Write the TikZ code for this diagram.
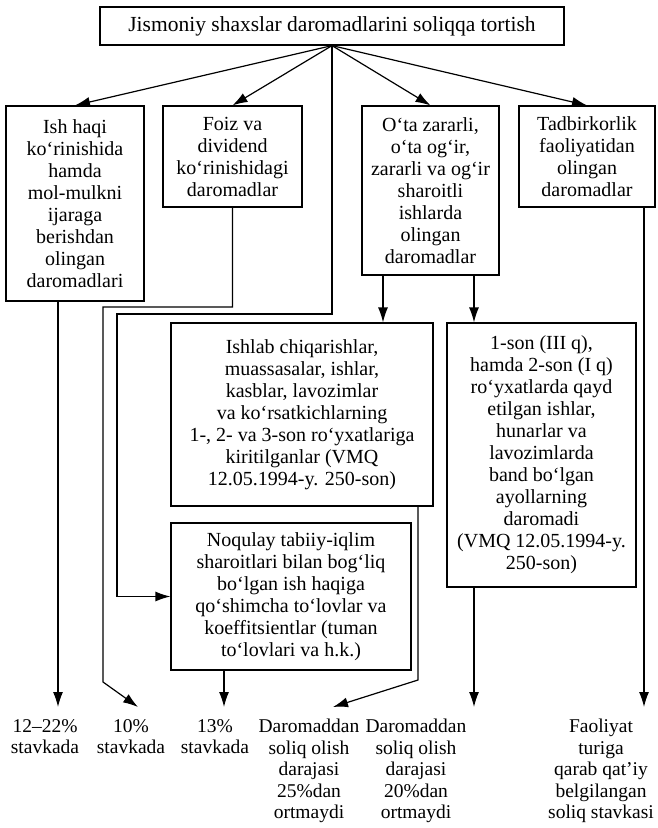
\documentclass[tikz,border=0pt]{standalone}
\usepackage{fontspec}
\setmainfont{Liberation Serif}
\usetikzlibrary{arrows.meta}
\begin{document}
\begin{tikzpicture}[x=1pt,y=-1pt,
  box/.style={draw, line width=1.2pt, align=center, inner sep=0pt, font=\fontsize{20}{22}\selectfont},
  lbl/.style={align=center, inner sep=0pt, anchor=north, font=\fontsize{19.5}{21.5}\selectfont},
  arr/.style={line width=1.2pt, -{Latex[length=15pt,width=10pt]}},
  ln/.style={line width=1.2pt}]
\useasboundingbox (0,0) rectangle (657,828);
% boxes
\node[box, minimum width=464pt, minimum height=38pt, font=\fontsize{21.5}{24}\selectfont] (title) at (332,26) {Jismoniy shaxslar daromadlarini soliqqa tortish};
\node[box, minimum width=138pt, minimum height=195pt] (ish) at (75,203.5) {Ish haqi\\ko‘rinishida\\hamda\\mol-mulkni\\ijaraga\\berishdan\\olingan\\daromadlari};
\node[box, minimum width=139pt, minimum height=101pt] (foiz) at (232.5,156.5) {Foiz va\\dividend\\ko‘rinishidagi\\daromadlar};
\node[box, minimum width=137pt, minimum height=169pt] (ota) at (430.5,190.5) {O‘ta zararli,\\o‘ta og‘ir,\\zararli va og‘ir\\sharoitli\\ishlarda\\olingan\\daromadlar};
\node[box, minimum width=136pt, minimum height=101pt] (tad) at (587,156.5) {Tadbirkorlik\\faoliyatidan\\olingan\\daromadlar};
\node[box, minimum width=262pt, minimum height=183pt] (ishlab) at (302,414.5) {Ishlab chiqarishlar,\\muassasalar, ishlar,\\kasblar, lavozimlar\\va ko‘rsatkichlarning\\1-, 2- va 3-son ro‘yxatlariga\\kiritilganlar (VMQ\\12.05.1994-y. 250-son)};
\node[box, minimum width=240pt, minimum height=147pt] (noq) at (291,596.5) {Noqulay tabiiy-iqlim\\sharoitlari bilan bog‘liq\\bo‘lgan ish haqiga\\qo‘shimcha to‘lovlar va\\koeffitsientlar (tuman\\to‘lovlari va h.k.)};
\node[box, minimum width=189pt, minimum height=264pt] (ayol) at (541.5,455) {1-son (III q),\\hamda 2-son (I q)\\ro‘yxatlarda qayd\\etilgan ishlar,\\hunarlar va\\lavozimlarda\\band bo‘lgan\\ayollarning\\daromadi\\(VMQ 12.05.1994-y.\\250-son)};
% bottom labels
\node[lbl] (l1) at (45,719) {12–22\%\\stavkada};
\node[lbl] (l2) at (131,719) {10\%\\stavkada};
\node[lbl] (l3) at (215,719) {13\%\\stavkada};
\node[lbl] (l4) at (309,719) {Daromaddan\\soliq olish\\darajasi\\25\%dan\\ortmaydi};
\node[lbl] (l5) at (416,719) {Daromaddan\\soliq olish\\darajasi\\20\%dan\\ortmaydi};
\node[lbl] (l6) at (601,719) {Faoliyat\\turiga\\qarab qat’iy\\belgilangan\\soliq stavkasi};
% helper coordinates
\coordinate (xf) at (58,0);
\coordinate (xa) at (383,0);
\coordinate (xb) at (474,0);
\coordinate (xc) at (224,0);
\coordinate (xd) at (418,0);
\coordinate (xe) at (644,0);
\coordinate (c1) at (117,314);
\coordinate (c2) at (103,307);
\coordinate (c3) at (103,682);
\coordinate (c4) at (418,680);
\coordinate (t1) at (58,707);
\coordinate (t2) at (138,707);
\coordinate (t3) at (224,707);
\coordinate (t4) at (333,707);
\coordinate (t5) at (474,707);
\coordinate (t6) at (644,707);
% connectors
\draw[arr] (title.south) -- (ish.north);
\draw[arr] (title.south) -- (foiz.north);
\draw[arr] (title.south) -- (ota.north);
\draw[arr] (title.south) -- (tad.north);
\draw[arr] (title.south) |- (c1) |- (noq.west);
\draw[arr] (foiz.south) |- (c2) -- (c3) -- (t2);
\draw[arr] (ish.south -| xf) -- (t1);
\draw[arr] (ota.south -| xa) -- (ishlab.north -| xa);
\draw[arr] (ota.south -| xb) -- (ayol.north -| xb);
\draw[arr] (ayol.south -| xb) -- (t5);
\draw[arr] (noq.south -| xc) -- (t3);
\draw[arr] (ishlab.south -| xd) -- (c4) -- (t4);
\draw[arr] (tad.south -| xe) -- (t6);
\end{tikzpicture}
\end{document}
